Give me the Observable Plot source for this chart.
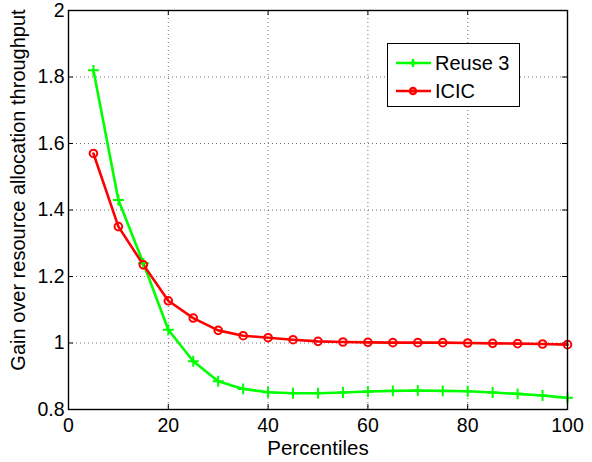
<!DOCTYPE html>
<html><head><meta charset="utf-8">
<script src="https://cdn.jsdelivr.net/npm/d3@7"></script>
<script src="https://cdn.jsdelivr.net/npm/@observablehq/plot@0.6"></script>
<style>
body{margin:0;background:#fff;font-family:"Liberation Sans",Arial,sans-serif;}
#wrap{position:relative;width:592px;height:462px;}
#legend{position:absolute;left:387px;top:43px;width:131px;height:62px;border:1.4px solid #000;background:#fff;font-size:20px;}
#legend .row{position:absolute;left:6px;height:22px;display:flex;align-items:center;}
#legend .row span{margin-left:3px;line-height:22px;}
</style>
</head><body>
<div id="wrap"></div>
<script>
const percentiles = [5,10,15,20,25,30,35,40,45,50,55,60,65,70,75,80,85,90,95,100];
const reuse3 = [1.82,1.43,1.24,1.04,0.945,0.885,0.862,0.852,0.849,0.849,0.851,0.854,0.856,0.857,0.856,0.855,0.851,0.847,0.842,0.835];
const icic = [1.57,1.35,1.235,1.127,1.075,1.038,1.022,1.016,1.010,1.005,1.003,1.002,1.001,1.001,1.001,1.000,0.999,0.998,0.997,0.995];
const seriesNames = ["Reuse 3","ICIC"];
const seriesColors = ["#00ff00","#ff0000"];
const xTicks = [0,20,40,60,80,100];
const yTicks = [0.8,1,1.2,1.4,1.6,1.8,2];
const xLabel = "Percentiles";
const yLabel = "Gain over resource allocation throughput";

const data = [];
percentiles.forEach((p,i)=>{
  data.push({x:p,y:reuse3[i],s:seriesNames[0]});
  data.push({x:p,y:icic[i],s:seriesNames[1]});
});
const W=592,H=462,mL=68,mR=25,mT=10,mB=53;
const fw=W-mL-mR, fh=H-mT-mB;
const grid={stroke:"#000",strokeOpacity:0.55,strokeDasharray:"1,3",strokeWidth:1};
const chart = Plot.plot({
  width:W,height:H,marginLeft:mL,marginRight:mR,marginTop:mT,marginBottom:mB,
  style:{fontFamily:"'Liberation Sans',Arial,sans-serif",fontSize:"19px",background:"#fff",color:"#000"},
  x:{domain:[0,100],ticks:xTicks,label:null},
  y:{domain:[0.8,2],ticks:yTicks,label:null},
  marks:[
    Plot.gridX(xTicks.slice(1,-1),grid),
    Plot.gridY(yTicks.slice(1,-1),grid),
    Plot.tickX(xTicks,{x:d=>d,insetTop:fh-5,stroke:"#000"}),
    Plot.tickX(xTicks,{x:d=>d,insetBottom:fh-5,stroke:"#000"}),
    Plot.tickY(yTicks,{y:d=>d,insetRight:fw-5,stroke:"#000"}),
    Plot.tickY(yTicks,{y:d=>d,insetLeft:fw-5,stroke:"#000"}),
    Plot.axisX(xTicks,{tickSize:0,tickPadding:9,fontSize:19.5,tickFormat:d=>String(d)}),
    Plot.axisY(yTicks,{tickSize:0,tickPadding:4,fontSize:19.5,tickFormat:d=>String(d)}),
    Plot.line(data,{x:"x",y:"y",z:"s",stroke:"s",strokeWidth:2.6}),
    Plot.dot(data.filter(d=>d.s===seriesNames[0]),{x:"x",y:"y",symbol:"plus",r:3.6,stroke:seriesColors[0],strokeWidth:2}),
    Plot.dot(data.filter(d=>d.s===seriesNames[1]),{x:"x",y:"y",symbol:"circle",r:3.8,stroke:seriesColors[1],strokeWidth:2,fill:"none"}),
    Plot.frame({stroke:"#000",strokeWidth:1.4}),
    Plot.text([xLabel],{frameAnchor:"bottom",dy:45,fontSize:20.5,textAnchor:"middle",text:d=>d}),
    Plot.text([yLabel],{frameAnchor:"left",dx:-50,dy:-20,rotate:-90,fontSize:20,textAnchor:"middle",text:d=>d})
  ],
  color:{domain:seriesNames,range:seriesColors}
});
const wrap=document.getElementById("wrap");
wrap.appendChild(chart);
const leg=document.createElement("div");leg.id="legend";
seriesNames.forEach((n,i)=>{
  const r=document.createElement("div");r.className="row";r.style.top=(i===0?8:36)+"px";
  const mk = i===0
    ? `<line x1="19" y1="7" x2="19" y2="15"/><line x1="15" y1="11" x2="23" y2="11"/>`
    : `<circle cx="19" cy="11" r="3"/>`;
  r.innerHTML=`<svg width="38" height="22"><g stroke="${seriesColors[i]}" stroke-width="2.5" fill="none"><line x1="2" y1="11" x2="37" y2="11"/>${mk}</g></svg><span>${n}</span>`;
  leg.appendChild(r);
});
wrap.appendChild(leg);
</script>
</body></html>
